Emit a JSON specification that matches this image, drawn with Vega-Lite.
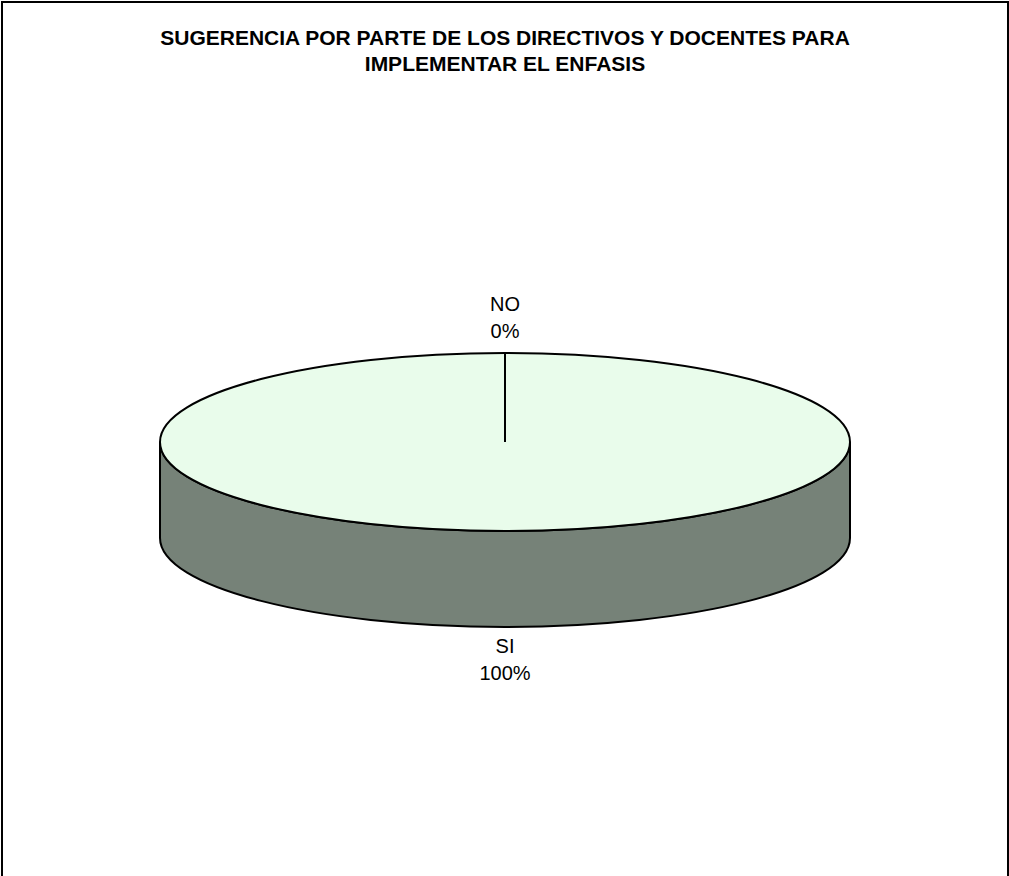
{
  "$schema": "https://vega.github.io/schema/vega-lite/v6.json",
  "width": 1006,
  "height": 880,
  "autosize": {"type": "none"},
  "padding": {"left": 2, "top": 2, "right": 1, "bottom": 0},
  "background": "white",
  "config": {"view": {"stroke": "black", "strokeWidth": 2}, "font": "Liberation Sans"},
  "title": {
    "text": ["SUGERENCIA POR PARTE DE LOS DIRECTIVOS Y DOCENTES PARA", "IMPLEMENTAR EL ENFASIS"],
    "font": "Liberation Sans",
    "fontSize": 21,
    "fontWeight": "bold",
    "color": "black",
    "lineHeight": 26.5,
    "anchor": "middle",
    "baseline": "alphabetic",
    "offset": -91
  },
  "data": {"values": [
    {"respuesta": "SI", "valor": 100},
    {"respuesta": "NO", "valor": 0}
  ]},
  "layer": [
    {
      "transform": [{"filter": "datum.valor > 0"}],
      "mark": {"type": "rect", "fillOpacity": 0, "stroke": "black", "strokeWidth": 2},
      "encoding": {}
    },
    {
      "transform": [{"filter": "datum.valor > 0"}],
      "mark": {"type": "point", "shape": "M -1 0 L -1 0.278 C -1 0.4205 -0.5523 0.536 0 0.536 C 0.5523 0.536 1 0.4205 1 0.278 L 1 0 C 1 0.1425 0.5523 0.258 0 0.258 C -0.5523 0.258 -1 0.1425 -1 0 Z", "size": 476100, "filled": true, "fill": "#768278", "stroke": "black", "strokeWidth": 2, "opacity": 1},
      "encoding": {}
    },
    {
      "transform": [{"filter": "datum.valor > 0"}],
      "mark": {"type": "point", "shape": "M -1 0 C -1 -0.1425 -0.5523 -0.258 0 -0.258 C 0.5523 -0.258 1 -0.1425 1 0 C 1 0.1425 0.5523 0.258 0 0.258 C -0.5523 0.258 -1 0.1425 -1 0 Z", "size": 476100, "filled": true, "stroke": "black", "strokeWidth": 2, "opacity": 1},
      "encoding": {
        "color": {"field": "respuesta", "type": "nominal", "scale": {"domain": ["SI", "NO"], "range": ["#E9FCEB", "#FFFFFF"]}, "legend": null}
      }
    },
    {
      "transform": [{"filter": "datum.respuesta == 'NO'"}],
      "mark": {"type": "arc", "radius": 90, "fillOpacity": 0, "stroke": "black", "strokeWidth": 2},
      "encoding": {
        "theta": {"field": "valor", "type": "quantitative", "stack": true, "scale": {"domain": [0, 100]}}
      }
    },
    {
      "transform": [{"filter": "datum.respuesta == 'NO'"}, {"calculate": "datum.respuesta + '\\n' + datum.valor + '%'", "as": "etiqueta"}],
      "mark": {"type": "text", "radius": 137.5, "fontSize": 20, "lineHeight": 27, "lineBreak": "\n", "baseline": "middle", "align": "center", "color": "black", "font": "Liberation Sans"},
      "encoding": {
        "theta": {"field": "valor", "type": "quantitative", "stack": true, "scale": {"domain": [0, 100]}},
        "text": {"field": "etiqueta"}
      }
    },
    {
      "transform": [{"filter": "datum.respuesta == 'SI'"}, {"calculate": "datum.respuesta + '\\n' + datum.valor + '%'", "as": "etiqueta"}],
      "mark": {"type": "text", "radius": 204.5, "fontSize": 20, "lineHeight": 27, "lineBreak": "\n", "baseline": "middle", "align": "center", "color": "black", "font": "Liberation Sans"},
      "encoding": {
        "theta": {"field": "valor", "type": "quantitative", "stack": true, "scale": {"domain": [0, 100]}},
        "text": {"field": "etiqueta"}
      }
    }
  ]
}
